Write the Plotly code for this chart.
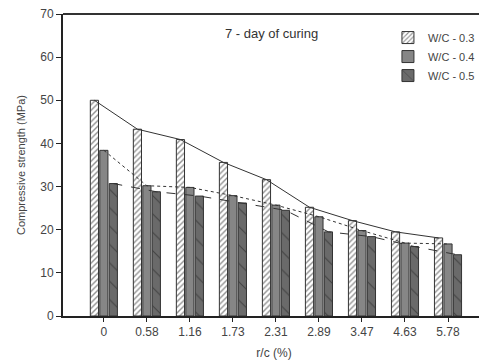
import plotly.graph_objects as go

categories = ["0", "0.58", "1.16", "1.73", "2.31", "2.89", "3.47", "4.63", "5.78"]
wc03 = [50.0, 43.3, 40.9, 35.6, 31.6, 25.2, 22.1, 19.5, 18.1]
wc04 = [38.4, 30.2, 29.8, 27.9, 25.7, 23.0, 19.8, 16.9, 16.7]
wc05 = [30.7, 28.8, 27.8, 26.2, 24.5, 19.5, 18.4, 16.1, 14.2]
series_names = ["W/C - 0.3", "W/C - 0.4", "W/C - 0.5"]

idx = list(range(len(categories)))
offsets = [-0.22, 0.0, 0.22]
bar_w = 0.19

fig = go.Figure()

styles = [
    dict(color="white", pattern=dict(shape="/", size=4, solidity=0.35, fgcolor="#222222", bgcolor="white", fillmode="overlay")),
    dict(color="#868686"),
    dict(color="#6a6a6a", pattern=dict(shape="\\", size=13, solidity=0.08, fgcolor="#1a1a1a", bgcolor="#6a6a6a", fillmode="overlay")),
]
line_dash = ["solid", "dot", "dash"]
vals_all = [wc03, wc04, wc05]

for k, (vals, name) in enumerate(zip(vals_all, series_names)):
    xs = [i + offsets[k] for i in idx]
    fig.add_trace(go.Bar(
        x=xs, y=vals, name=name, width=bar_w,
        marker=dict(line=dict(color="#333333", width=1), **styles[k]),
        showlegend=True,
    ))
for k, vals in enumerate(vals_all):
    xs = [i + offsets[k] for i in idx]
    fig.add_trace(go.Scatter(
        x=xs, y=vals, mode="lines", showlegend=False,
        line=dict(color="#333333", width=1, dash=line_dash[k]),
        hoverinfo="skip",
    ))

font_family = "Liberation Sans, Arial, sans-serif"

fig.update_layout(
    width=487, height=364,
    margin=dict(l=55, r=10, t=6, b=56, autoexpand=False),
    paper_bgcolor="white", plot_bgcolor="white",
    font=dict(family=font_family, color="#333333"),
    barmode="overlay",
    showlegend=True,
    legend=dict(x=0.77, y=0.97, xanchor="left", yanchor="top",
                font=dict(size=11, color="#444444"),
                bgcolor="rgba(0,0,0,0)", itemwidth=30,
                tracegroupgap=0),
    xaxis=dict(
        range=[-0.95, 8.86], tickmode="array", tickvals=idx, ticktext=categories,
        showgrid=False, zeroline=False, showline=True, linecolor="#222222", linewidth=2,
        ticks="outside", ticklen=4, tickwidth=1, tickcolor="#222222",
        tickfont=dict(size=12, color="#444444"), automargin=False,
        title=dict(text="r/c (%)", font=dict(size=12, color="#444444"), standoff=10),
    ),
    yaxis=dict(
        range=[0, 70], tickmode="array", tickvals=[0, 10, 20, 30, 40, 50, 60, 70],
        showgrid=False, zeroline=False, showline=True, linecolor="#222222", linewidth=2,
        ticks="outside", ticklen=5, tickwidth=1, tickcolor="#222222",
        tickfont=dict(size=12, color="#444444"), automargin=False,
        ticklabeloverflow="allow",
        title=dict(text="Compressive strength (MPa)", font=dict(size=11, color="#444444"), standoff=12),
    ),
    annotations=[dict(text="7 - day of curing", x=0.493, y=0.937, xref="paper", yref="paper",
                      showarrow=False, font=dict(size=13, color="#333333"),
                      xanchor="center", yanchor="middle")],
    shapes=[
        dict(type="line", xref="paper", yref="paper", x0=0, x1=1, y0=1, y1=1,
             line=dict(color="#333333", width=2)),
        dict(type="line", xref="paper", yref="paper", x0=1, x1=1, y0=0, y1=1,
             line=dict(color="#999999", width=1)),
    ],
)

fig.write_html("out.html")
